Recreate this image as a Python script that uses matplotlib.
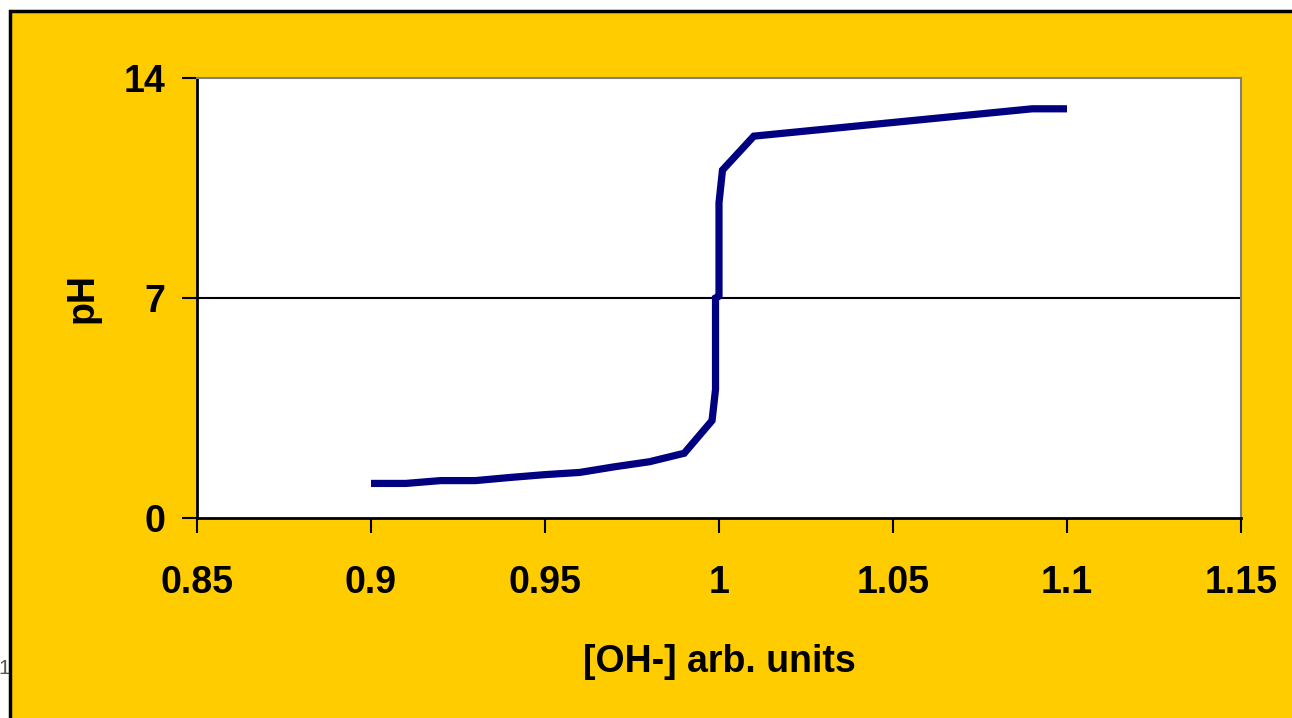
import matplotlib
matplotlib.use("Agg")
import matplotlib.pyplot as plt
from matplotlib.patches import Rectangle

# titration curve
oh = [0.90, 0.91, 0.92, 0.93, 0.94, 0.95, 0.96, 0.97, 0.98, 0.99,
      0.998, 0.999, 0.999, 0.999, 0.999, 1.000, 1.000, 1.000, 1.000,
      1.001, 1.010, 1.090, 1.091, 1.092, 1.093, 1.094, 1.095, 1.096,
      1.097, 1.098, 1.099, 1.100]
ph = [1.10, 1.10, 1.19, 1.19, 1.29, 1.38, 1.45, 1.63, 1.79, 2.06,
      3.10, 4.09, 5.08, 6.07, 7.00, 7.06, 8.05, 9.08, 10.03,
      11.07, 12.15, 13.02, 13.02, 13.02, 13.02, 13.02, 13.02, 13.02,
      13.02, 13.02, 13.02, 13.02]

x_ticks = [0.85, 0.9, 0.95, 1, 1.05, 1.1, 1.15]
x_labels = ["0.85", "0.9", "0.95", "1", "1.05", "1.1", "1.15"]
y_ticks = [0, 7, 14]

W, H = 1292, 718
fig = plt.figure(figsize=(W / 100, H / 100), dpi=100)
fig.patch.set_facecolor("white")

plt.rcParams['font.family'] = ['Liberation Sans', 'DejaVu Sans']

# slide number peeking out on the left
fig.text(-2 / W, 1 - 668 / H, "10", fontsize=15, color="#555555",
         va="center", ha="left", zorder=0)

# yellow panel with black border (cut off at right/bottom)
fig.patches.append(Rectangle((10 / W, 0 - 5 / H), 1.0, 1 - 11 / H + 5 / H,
                             transform=fig.transFigure, facecolor="#FFCC00",
                             edgecolor="black", linewidth=2.5, zorder=1))

ax = fig.add_axes([197 / W, 1 - 518 / H, (1241 - 197) / W, (518 - 78) / H])
ax.set_zorder(2)
ax.set_facecolor("white")

ax.axhline(7, color="black", linewidth=1.5, zorder=2)
ax.plot(oh, ph, color="#000080", linewidth=5.2, solid_joinstyle="miter",
        solid_capstyle="butt", zorder=3)

ax.set_xlim(0.85, 1.15)
ax.set_ylim(0, 14)
ax.set_xticks(x_ticks)
ax.set_xticklabels(x_labels)
ax.set_yticks(y_ticks)

for s in ["left", "bottom"]:
    ax.spines[s].set_color("black")
    ax.spines[s].set_linewidth(2)
for s in ["top", "right"]:
    ax.spines[s].set_color("#808080")
    ax.spines[s].set_linewidth(1.5)

ax.tick_params(axis="x", direction="out", length=11, width=1.5, pad=23,
               labelsize=27)
ax.tick_params(axis="y", direction="out", length=11, width=1.5, pad=12,
               labelsize=27)
for lab in ax.get_xticklabels() + ax.get_yticklabels():
    lab.set_fontweight("bold")

ax.set_xlabel("[OH-] arb. units", fontsize=27, fontweight="bold", labelpad=31)
ax.set_ylabel("pH", fontsize=27, fontweight="bold", labelpad=16)

fig.savefig("out.png", dpi=100)
